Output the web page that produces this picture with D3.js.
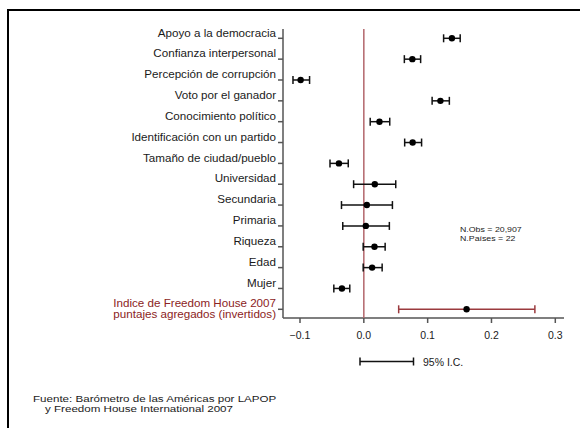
<!DOCTYPE html>
<html><head><meta charset="utf-8">
<script src="https://cdn.jsdelivr.net/npm/d3@7"></script>
<style>body{margin:0;background:#fff}svg{display:block;font-family:"Liberation Sans",Arial,sans-serif}</style>
</head><body><svg id="c" width="580" height="428"></svg>
<script>
(function(){
const labels = ["Apoyo a la democracia","Confianza interpersonal","Percepción de corrupción","Voto por el ganador","Conocimiento político","Identificación con un partido","Tamaño de ciudad/pueblo","Universidad","Secundaria","Primaria","Riqueza","Edad","Mujer","Indice de Freedom House 2007|puntajes agregados (invertidos)"];
const coef  = [0.138,0.076,-0.099,0.120,0.0245,0.0765,-0.039,0.0172,0.0047,0.0031,0.0167,0.013,-0.0343,0.161];
const lower = [0.125,0.0635,-0.111,0.107,0.010,0.064,-0.053,-0.016,-0.035,-0.033,-0.001,-0.001,-0.047,0.0546];
const upper = [0.151,0.089,-0.085,0.134,0.0406,0.0905,-0.0244,0.050,0.0448,0.040,0.0334,0.0287,-0.022,0.268];
const xTicks = [-0.1,0,0.1,0.2,0.3];
const highlight = [false,false,false,false,false,false,false,false,false,false,false,false,false,true];

const svg = d3.select("#c");
svg.append("path").attr("d","M8,430 V10 H582").attr("fill","none").attr("stroke","#000").attr("stroke-width",2);

function txt(px, py, str, size, sx, anchor, fill){
  return svg.append("text").attr("transform",`translate(${px},${py}) scale(${sx},1)`)
    .attr("x",0).attr("y",0).attr("font-size",size).attr("text-anchor",anchor||"start")
    .attr("fill",fill||"#1a1a1a").text(str);
}

const x = d3.scaleLinear().domain([-0.1,0.3]).range([300,555.3]);
const y = d3.scalePoint().domain(d3.range(labels.length)).range([38.3,309.3]);
const axisCol = "#555";
const pLeft = 283, pBottom = 318, pRight = 564, pTop = 29;

svg.append("line").attr("x1",pLeft).attr("x2",pLeft).attr("y1",pTop).attr("y2",pBottom).attr("stroke",axisCol).attr("stroke-width",1.5);
svg.append("line").attr("x1",pLeft).attr("x2",pRight).attr("y1",pBottom).attr("y2",pBottom).attr("stroke",axisCol).attr("stroke-width",1.5);

labels.forEach((l,i)=>{
  svg.append("line").attr("x1",pLeft-5).attr("x2",pLeft).attr("y1",y(i)).attr("y2",y(i)).attr("stroke",axisCol).attr("stroke-width",1.5);
  const parts = l.split("|");
  const col = highlight[i]?"#8b2323":"#1a1a1a";
  if(parts.length===1){ txt(pLeft-7, y(i)-1.8, l, 10.2, 1.14, "end", col); }
  else {
    txt(pLeft-7, y(i)-2, parts[0], 10.2, 1.14, "end", col);
    txt(pLeft-7, y(i)+8.5, parts[1], 10.2, 1.14, "end", col);
  }
});

xTicks.forEach(v=>{
  svg.append("line").attr("x1",x(v)).attr("x2",x(v)).attr("y1",pBottom).attr("y2",pBottom+5).attr("stroke",axisCol).attr("stroke-width",1.5);
  txt(x(v), pBottom+21, d3.format(".1f")(v), 10, 1.05, "middle");
});

svg.append("line").attr("x1",x(0)).attr("x2",x(0)).attr("y1",pTop).attr("y2",pBottom).attr("stroke","#b3666b").attr("stroke-width",1.5);

const g = svg.append("g");
coef.forEach((c,i)=>{
  const col = highlight[i]?"#9b3a3e":"#111";
  const yy = y(i);
  g.append("line").attr("x1",x(lower[i])).attr("x2",x(upper[i])).attr("y1",yy).attr("y2",yy).attr("stroke",col).attr("stroke-width",1.5);
  [lower[i],upper[i]].forEach(v=>g.append("line").attr("x1",x(v)).attr("x2",x(v)).attr("y1",yy-4).attr("y2",yy+4).attr("stroke",col).attr("stroke-width",1.5));
  g.append("circle").attr("cx",x(c)).attr("cy",yy).attr("r",3.2).attr("fill","#000");
});

txt(460, 232, "N.Obs = 20,907", 8, 1.1, "start", "#222");
txt(460, 241, "N.Países = 22", 8, 1.1, "start", "#222");

svg.append("line").attr("x1",360).attr("x2",413.5).attr("y1",361.5).attr("y2",361.5).attr("stroke","#111").attr("stroke-width",1.5);
[360,413.5].forEach(v=>svg.append("line").attr("x1",v).attr("x2",v).attr("y1",357.5).attr("y2",365.5).attr("stroke","#111").attr("stroke-width",1.5));
txt(423, 365.5, "95% I.C.", 10, 1.05, "start");

txt(33, 402, "Fuente: Barómetro de las Américas por LAPOP", 9.2, 1.26, "start");
txt(45, 412, "y Freedom House International 2007", 9.2, 1.26, "start");
})();
</script></body></html>
